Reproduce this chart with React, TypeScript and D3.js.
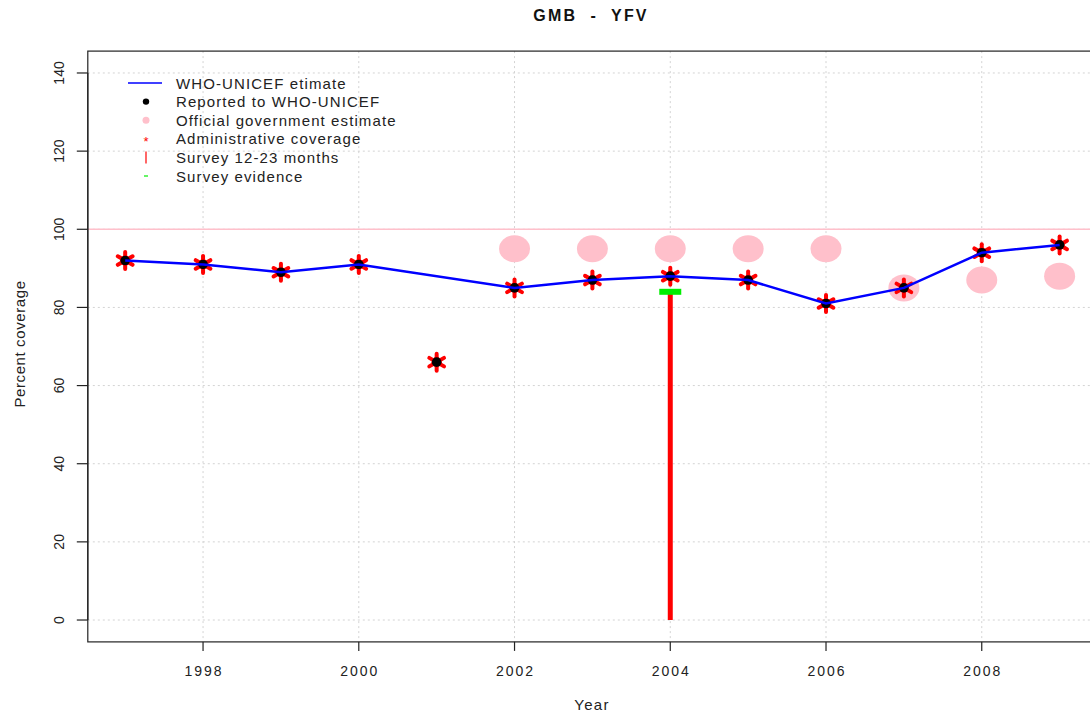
import React from "react";
import * as d3 from "d3";

const years = [1997, 1998, 1999, 2000, 2001, 2002, 2003, 2004, 2005, 2006, 2007, 2008, 2009];
const whoUnicef: (number | null)[] = [92, 91, 89, 91, null, 85, 87, 88, 87, 81, 85, 94, 96];
const reported: (number | null)[] = [92, 91, 89, 91, 66, 85, 87, 88, 87, 81, 85, 94, 96];
const adminCoverage: (number | null)[] = [92, 91, 89, 91, 66, 85, 87, 88, 87, 81, 85, 94, 96];
const officialEstimate: (number | null)[] = [null, null, null, null, null, 95, 95, 95, 95, 95, 85, 87, 88];
const surveyYears = [2004];
const survey1223 = [84];
const surveyEvidence = [84];
const xTicks = [1998, 2000, 2002, 2004, 2006, 2008];
const yTicks = [0, 20, 40, 60, 80, 100, 120, 140];
const legendLabels = [
  "WHO-UNICEF etimate",
  "Reported to WHO-UNICEF",
  "Official government estimate",
  "Administrative coverage",
  "Survey 12-23 months",
  "Survey evidence",
];

const W = 1090;
const H = 717;
const FONT = "'Liberation Sans', Arial, Helvetica, sans-serif";

function Star({ cx, cy, r, sw }: { cx: number; cy: number; r: number; sw: number }) {
  return (
    <g stroke="#ff0000" strokeWidth={sw} strokeLinecap="round">
      {[0, 60, 120].map((a) => {
        const rad = ((a + 90) * Math.PI) / 180;
        const dx = Math.cos(rad) * r;
        const dy = Math.sin(rad) * r;
        return <line key={a} x1={cx - dx} y1={cy - dy} x2={cx + dx} y2={cy + dy} />;
      })}
      <circle cx={cx} cy={cy} r={r * 0.6} fill="#ff0000" stroke="none" />
    </g>
  );
}

export default function App() {
  const x = d3.scaleLinear().domain([1996.52, 2009.48]).range([87.8, 1097]);
  const y = d3.scaleLinear().domain([-5.6, 145.6]).range([641.9, 51.1]);
  const left = x(1996.52);
  const right = x(2009.48);
  const top = y(145.6);
  const bottom = y(-5.6);

  const lineGen = d3
    .line<[number, number | null]>()
    .x((d) => x(d[0]))
    .y((d) => y(d[1] as number));
  const connected: [number, number | null][] = years
    .map((yr, i) => [yr, whoUnicef[i]] as [number, number | null])
    .filter((d) => d[1] !== null);

  const legX = 128;
  const legY0 = 83;
  const legDy = 18.6;

  return (
    <svg
      width={W}
      height={H}
      style={{ position: "absolute", left: 0, top: 0, background: "#fff", fontFamily: FONT }}
    >
      <rect x={0} y={0} width={W} height={H} fill="#fff" />
      {/* grid */}
      <g stroke="#d3d3d3" strokeWidth={1} strokeDasharray="2,3">
        {xTicks.map((t) => (
          <line key={"gx" + t} x1={x(t)} x2={x(t)} y1={top} y2={bottom} />
        ))}
        {yTicks.map((t) => (
          <line key={"gy" + t} x1={left} x2={right} y1={y(t)} y2={y(t)} />
        ))}
      </g>
      {/* 100% line */}
      <line x1={left} x2={right} y1={y(100)} y2={y(100)} stroke="#ffc0cb" strokeWidth={1.5} />

      {/* official estimate */}
      {years.map((yr, i) =>
        officialEstimate[i] !== null ? (
          <ellipse key={"o" + yr} cx={x(yr)} cy={y(officialEstimate[i] as number)} rx={15.5} ry={13.5} fill="#ffc0cb" />
        ) : null
      )}

      {/* survey 12-23 */}
      {surveyYears.map((yr, i) => (
        <line key={"s" + yr} x1={x(yr)} x2={x(yr)} y1={y(0)} y2={y(survey1223[i])} stroke="#ff0000" strokeWidth={5} />
      ))}
      {surveyYears.map((yr, i) => (
        <line key={"se" + yr} x1={x(yr) - 11} x2={x(yr) + 11} y1={y(surveyEvidence[i])} y2={y(surveyEvidence[i])} stroke="#00ee00" strokeWidth={6} />
      ))}

      {/* admin coverage stars */}
      {years.map((yr, i) =>
        adminCoverage[i] !== null ? (
          <Star key={"a" + yr} cx={x(yr)} cy={y(adminCoverage[i] as number)} r={8.5} sw={4} />
        ) : null
      )}
      {/* reported dots */}
      {years.map((yr, i) =>
        reported[i] !== null ? (
          <circle key={"r" + yr} cx={x(yr)} cy={y(reported[i] as number)} r={4.8} fill="#000" />
        ) : null
      )}

      {/* WHO-UNICEF line */}
      <path d={lineGen(connected) || ""} fill="none" stroke="#0000ff" strokeWidth={2.5} />

      {/* box */}
      <rect x={left} y={top} width={right - left} height={bottom - top} fill="none" stroke="#222" strokeWidth={1.2} />

      {/* axes ticks */}
      <g stroke="#222" strokeWidth={1.2}>
        <line x1={left} x2={left} y1={y(0)} y2={y(140)} />
        {yTicks.map((t) => (
          <line key={"ty" + t} x1={left - 11} x2={left} y1={y(t)} y2={y(t)} />
        ))}
        {xTicks.map((t) => (
          <line key={"tx" + t} x1={x(t)} x2={x(t)} y1={bottom} y2={bottom + 9} />
        ))}
      </g>
      <g fontSize={14} fill="#222" textAnchor="middle">
        {yTicks.map((t) => (
          <text key={"ly" + t} transform={`translate(64,${y(t)}) rotate(-90)`}>
            {t}
          </text>
        ))}
      </g>
      <g fontSize={14} fill="#222" textAnchor="middle" letterSpacing={2}>
        {xTicks.map((t) => (
          <text key={"lx" + t} x={x(t) + 1} y={676}>
            {t}
          </text>
        ))}
      </g>
      <text x={592} y={710} textAnchor="middle" fontSize={15} letterSpacing={1.3} fill="#222">
        Year
      </text>
      <text transform={`translate(25,344) rotate(-90)`} textAnchor="middle" fontSize={15} letterSpacing={0.6} fill="#222">
        Percent coverage
      </text>
      <text x={591} y={21} textAnchor="middle" fontSize={16} fontWeight="bold" letterSpacing={2.2} fill="#111" style={{ whiteSpace: "pre" }}>
        {"GMB  -  YFV"}
      </text>

      {/* legend */}
      <g fontSize={15} fill="#222">
        <line x1={legX} x2={legX + 34} y1={legY0} y2={legY0} stroke="#0000ff" strokeWidth={1.5} />
        <circle cx={146} cy={legY0 + legDy} r={3.2} fill="#000" />
        <circle cx={146} cy={legY0 + 2 * legDy} r={3.5} fill="#ffc0cb" />
        <text x={146} y={legY0 + 3 * legDy + 7} textAnchor="middle" fill="#ff0000" fontSize={13}>
          *
        </text>
        <line x1={146} x2={146} y1={legY0 + 4 * legDy - 6} y2={legY0 + 4 * legDy + 6} stroke="#ff0000" strokeWidth={1.2} />
        <line x1={144} x2={148} y1={legY0 + 5 * legDy} y2={legY0 + 5 * legDy} stroke="#00ee00" strokeWidth={1.2} />
        <g letterSpacing={1.1}>
          {legendLabels.map((l, i) => (
            <text key={l} x={176} y={legY0 + i * legDy + 5.5}>
              {l}
            </text>
          ))}
        </g>
      </g>
    </svg>
  );
}
